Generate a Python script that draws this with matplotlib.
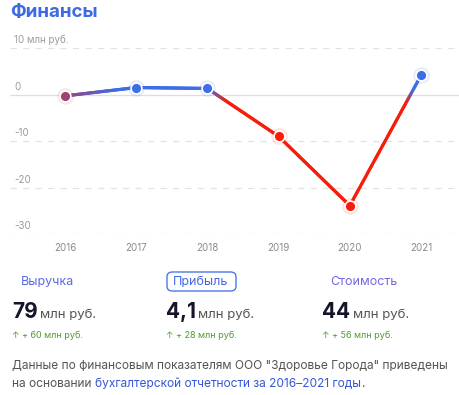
import matplotlib
matplotlib.use("Agg")
import matplotlib.pyplot as plt
import numpy as np
from matplotlib.collections import LineCollection
from matplotlib.patches import FancyBboxPatch
from matplotlib.colors import to_rgb

plt.rcParams['font.family'] = ['Inter', 'DejaVu Sans']

years = [2016, 2017, 2018, 2019, 2020, 2021]
profit = [-0.3, 1.5, 1.3, -9.0, -23.9, 4.1]
yticks = [10, 0, -10, -20, -30]
ytick_labels = ["10 млн руб.", "0", "-10", "-20", "-30"]

metric_names = ["Выручка", "Прибыль", "Стоимость"]
metric_values = ["79", "4,1", "44"]
metric_deltas = ["↑ + 60 млн руб.", "↑ + 28 млн руб.", "↑ + 56 млн руб."]

W, H = 460, 395
fig = plt.figure(figsize=(W / 100, H / 100), dpi=100)

def fx(px):
    return px / W

def fy(py):
    return 1 - py / H

RED = np.array(to_rgb('#f81d0a'))
BLUE = np.array(to_rgb('#3e6de8'))

def col(v):
    t = np.clip((v + 1.5) / 2.5, 0, 1)
    return tuple(RED * (1 - t) + BLUE * t)

ax = fig.add_axes([fx(10), fy(234), fx(450), (234 - 48) / H])
ax.set_xlim(2016 - 55 / 71.2, 2021 + 39 / 71.2)
ax.set_ylim(-30, 10)
ax.axis('off')

for v, lab in zip(yticks, ytick_labels):
    if v == 0:
        ax.axhline(v, color='#dedede', lw=0.9, zorder=1)
    else:
        ax.axhline(v, color='#e3e3e3', lw=0.9, ls=(0, (5, 5)), zorder=1)
    ax.annotate(lab, xy=(0, v), xycoords=('axes fraction', 'data'),
                xytext=(3, 2), textcoords='offset points',
                ha='left', va='bottom', fontsize=7, color='#9a9a9a')

for yr in years:
    ax.annotate(str(yr), xy=(yr, -30), xycoords='data', xytext=(0, -10),
                textcoords='offset points', ha='center', va='center',
                fontsize=7, color='#8a8a8a', annotation_clip=False)

# gradient line
segs = []
cols = []
N = 60
for i in range(len(years) - 1):
    xs = np.linspace(years[i], years[i + 1], N + 1)
    ys = np.linspace(profit[i], profit[i + 1], N + 1)
    for j in range(N):
        segs.append([(xs[j], ys[j]), (xs[j + 1], ys[j + 1])])
        cols.append(col((ys[j] + ys[j + 1]) / 2))
lc = LineCollection(segs, colors=cols, linewidths=2.3, capstyle='round', zorder=3)
lc.set_clip_on(False)
ax.add_collection(lc)

for x, y in zip(years, profit):
    ax.plot(x, y, 'o', ms=12, color=col(y), alpha=0.12, mew=0,
            zorder=2, clip_on=False)
    ax.plot(x, y, 'o', ms=7.8, color=col(y), mec='white', mew=1.2,
            zorder=4, clip_on=False)

# Title
fig.text(fx(10), fy(12), "Финансы", fontsize=13.5, fontweight='bold',
         color='#3f6ae6', ha='left', va='center')

# Metrics
name_x = [21, 201, 330]
name_cols = ['#5a6ae6', '#4468e0', '#7468e0']
for i, (nm, nx, nc) in enumerate(zip(metric_names, name_x, name_cols)):
    ha = 'center' if i == 1 else 'left'
    fig.text(fx(nx), fy(282), nm, fontsize=9, color=nc, ha=ha, va='center')

box = FancyBboxPatch((fx(167), fy(291)), fx(69), (291 - 272) / H,
                     boxstyle='round,pad=0,rounding_size=0.012',
                     transform=fig.transFigure, fill=False,
                     ec='#4a78e8', lw=1.0)
fig.add_artist(box)

val_x = [12, 166, 322]
unit_x = [40, 198, 353]
for v, vx, ux, d in zip(metric_values, val_x, unit_x, metric_deltas):
    fig.text(fx(vx), fy(318), v, fontsize=15, fontweight='bold',
             color='#15152a', ha='left', va='baseline')
    fig.text(fx(ux), fy(318), "млн руб.", fontsize=9.5, color='#555555',
             ha='left', va='baseline')
    fig.text(fx(vx), fy(335), d, fontsize=6.5, color='#4f9a2e',
             ha='left', va='center')

# Footer
fig.text(fx(12), fy(366), 'Данные по финансовым показателям ООО "Здоровье Города" приведены',
         fontsize=8.6, color='#555555', ha='left', va='center')
t1 = fig.text(fx(12), fy(384), 'на основании ', fontsize=8.6, color='#555555',
              ha='left', va='center')
t2 = fig.text(0, 0, 'бухгалтерской отчетности за 2016–2021 годы', fontsize=8.6,
              color='#3556d8', ha='left', va='center')
t3 = fig.text(0, 0, '.', fontsize=8.6, color='#555555', ha='left', va='center')
fig.canvas.draw()
r = fig.canvas.get_renderer()
bb1 = t1.get_window_extent(r)
t2.set_position((bb1.x1 / W, fy(384)))
fig.canvas.draw()
bb2 = t2.get_window_extent(r)
t3.set_position((bb2.x1 / W, fy(384)))

fig.savefig('out.png', dpi=100)
